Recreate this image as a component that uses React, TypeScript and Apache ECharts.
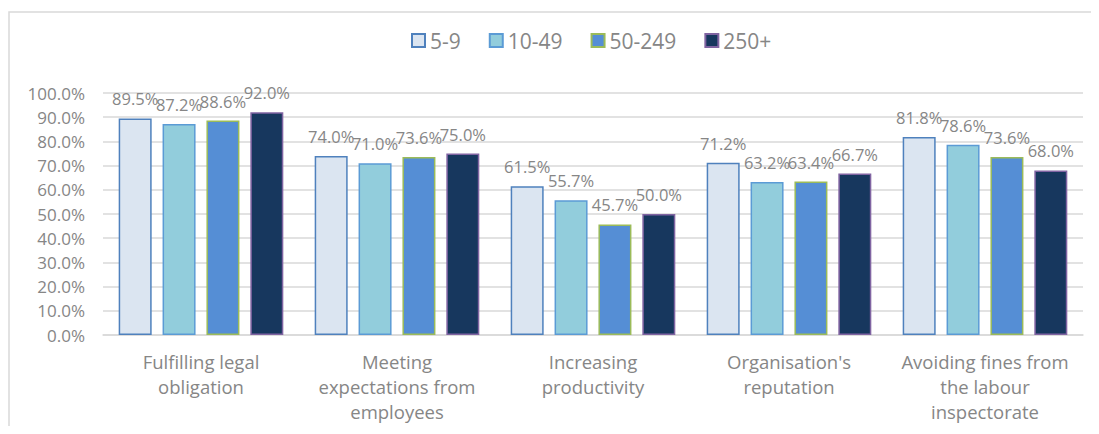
import React, { useEffect, useRef } from "react";
import * as echarts from "echarts";

const categories = [
  "Fulfilling legal\nobligation",
  "Meeting\nexpectations from\nemployees",
  "Increasing\nproductivity",
  "Organisation's\nreputation",
  "Avoiding fines from\nthe labour\ninspectorate",
];
const seriesNames = ["5-9", "10-49", "50-249", "250+"];
const s5to9 = [89.5, 74.0, 61.5, 71.2, 81.8];
const s10to49 = [87.2, 71.0, 55.7, 63.2, 78.6];
const s50to249 = [88.6, 73.6, 45.7, 63.4, 73.6];
const s250plus = [92.0, 75.0, 50.0, 66.7, 68.0];
const yTicks = [0, 10, 20, 30, 40, 50, 60, 70, 80, 90, 100];

const fills = ["#dbe5f1", "#92cddc", "#558ed5", "#17375e"];
const borders = ["#4f81bd", "#5b9bd5", "#9bbb59", "#8064a2"];
const FONT = "'Open Sans', sans-serif";
const TEXT = "#868686";

export default function App() {
  const ref = useRef<HTMLDivElement>(null);
  useEffect(() => {
    if (!ref.current) return;
    const chart = echarts.init(ref.current, undefined, { renderer: "svg" });
    const data = [s5to9, s10to49, s50to249, s250plus];
    chart.setOption({
      animation: false,
      textStyle: { fontFamily: FONT },
      graphic: [
        {
          type: "rect",
          shape: { x: 1, y: 4, width: 1200, height: 600 },
          style: { fill: "none", stroke: "#d9d9d9", lineWidth: 1.5 },
          silent: true,
        },
      ],
      legend: {
        top: 17,
        left: 398,
        itemWidth: 13,
        itemHeight: 13,
        itemGap: 28,
        itemTextGap: 6,
        icon: "rect",
        textStyle: { fontSize: 21, color: TEXT, fontFamily: FONT },
        data: seriesNames,
      },
      grid: { left: 95, right: 8, top: 85, bottom: 91, containLabel: false },
      xAxis: {
        type: "category",
        data: categories,
        axisLine: { show: true, lineStyle: { color: "#d9d9d9", width: 1.5 } },
        axisTick: { show: false },
        axisLabel: {
          color: TEXT,
          fontSize: 18.5,
          lineHeight: 25,
          margin: 14,
          fontFamily: FONT,
          interval: 0,
        },
      },
      yAxis: {
        type: "value",
        min: yTicks[0],
        max: yTicks[yTicks.length - 1],
        interval: 10,
        axisLine: { show: false },
        axisTick: { show: false },
        splitLine: { lineStyle: { color: "#d9d9d9", width: 1.5 } },
        axisLabel: {
          color: TEXT,
          fontSize: 17,
          margin: 18,
          fontFamily: FONT,
          formatter: (v: number) => v.toFixed(1) + "%",
        },
      },
      series: seriesNames.map((name, i) => ({
        name,
        type: "bar",
        data: data[i],
        barGap: "33%",
        barCategoryGap: "16%",
        itemStyle: { color: fills[i], borderColor: borders[i], borderWidth: 1.5 },
        label: {
          show: true,
          position: "top",
          distance: 11,
          color: TEXT,
          fontSize: 16.5,
          fontFamily: FONT,
          formatter: (p: any) => Number(p.value).toFixed(1) + "%",
        },
        labelLayout: { hideOverlap: false },
      })),
    });
    return () => chart.dispose();
  }, []);
  return <div ref={ref} style={{ width: 1083, height: 418 }} />;
}
